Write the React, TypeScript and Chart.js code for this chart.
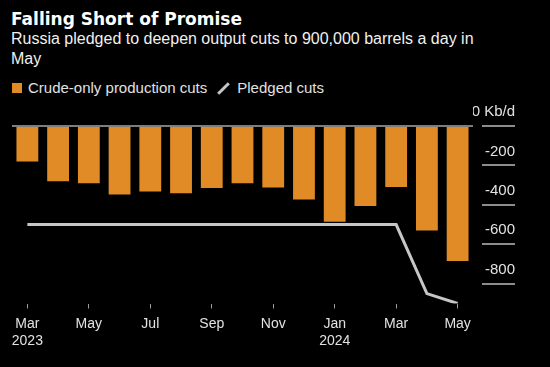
import React, { useEffect, useRef } from "react";
import { Chart, registerables } from "chart.js";

Chart.register(...registerables);

const months = [
  "Mar 2023", "Apr 2023", "May 2023", "Jun 2023", "Jul 2023", "Aug 2023", "Sep 2023",
  "Oct 2023", "Nov 2023", "Dec 2023", "Jan 2024", "Feb 2024", "Mar 2024", "Apr 2024", "May 2024",
];
const xTickLabels: (string | string[])[] = [
  ["Mar", "2023"], "", "May", "", "Jul", "", "Sep", "", "Nov", "", ["Jan", "2024"], "", "Mar", "", "May",
];
const crudeCuts = [-180, -280, -290, -347, -332, -341, -314, -290, -312, -373, -486, -405, -309, -530, -684];
const pledgedCuts = [-500, -500, -500, -500, -500, -500, -500, -500, -500, -500, -500, -500, -500, -850, -900];
const yTicks = [0, -200, -400, -600, -800];

const FONT = "'Liberation Sans', Arial, sans-serif";
const ORANGE = "#E08B26";
const LINE_GREY = "#c6c6c6";
const TEXT = "#e2e2e2";

export default function App() {
  const canvasRef = useRef<HTMLCanvasElement | null>(null);

  useEffect(() => {
    document.body.style.margin = "0";
    document.body.style.background = "#000";
    const canvas = canvasRef.current;
    if (!canvas) return;
    const chart = new Chart(canvas, {
      type: "bar",
      data: {
        labels: months,
        datasets: [
          {
            type: "bar",
            label: "Crude-only production cuts",
            data: crudeCuts,
            backgroundColor: ORANGE,
            borderWidth: 0,
            barPercentage: 0.71,
            categoryPercentage: 1,
            order: 2,
          },
          {
            type: "line",
            label: "Pledged cuts",
            data: pledgedCuts,
            borderColor: LINE_GREY,
            borderWidth: 3,
            pointRadius: 0,
            tension: 0,
            fill: false,
            order: 1,
          },
        ],
      },
      options: {
        responsive: false,
        animation: false,
        maintainAspectRatio: false,
        layout: { padding: { top: 126, left: 12, right: 35, bottom: 0 } },
        plugins: {
          legend: { display: false },
          title: { display: false },
          tooltip: { enabled: false },
        },
        scales: {
          x: {
            offset: true,
            border: { display: false },
            grid: {
              offset: false,
              drawOnChartArea: false,
              tickLength: 5,
              lineWidth: 1,
              tickColor: (ctx: any) => (ctx.index % 2 === 0 ? "#9a9a9a" : "rgba(0,0,0,0)"),
            },
            ticks: {
              autoSkip: false,
              maxRotation: 0,
              minRotation: 0,
              padding: 7,
              color: TEXT,
              font: { family: FONT, size: 14, lineHeight: 1.2 },
              callback: (_v: any, i: number) => xTickLabels[i],
            },
            afterFit: (s: any) => {
              s.height = 63.5;
            },
          },
          y: {
            position: "right",
            min: -900,
            max: 0,
            border: { display: false },
            afterBuildTicks: (s: any) => {
              s.ticks = yTicks.map((v) => ({ value: v }));
            },
            afterFit: (s: any) => {
              s.width = 42;
            },
            grid: {
              drawOnChartArea: true,
              lineWidth: 2,
              color: (ctx: any) => (ctx.tick && ctx.tick.value === 0 ? "#7d7d7d" : "rgba(0,0,0,0)"),
              tickColor: "#8c8c8c",
              tickLength: 42,
              tickBorderDash: [0, 9, 33],
            },
            ticks: {
              crossAlign: "far",
              padding: 0,
              labelOffset: -14,
              color: TEXT,
              font: { family: FONT, size: 15 },
              callback: (v: any) => (v === 0 ? "0 Kb/d" : String(v)),
            },
          },
        },
      } as any,
    });
    return () => chart.destroy();
  }, []);

  return (
    <div style={{ position: "fixed", left: 0, top: 0, width: 550, height: 367, background: "#000", overflow: "hidden" }}>
      <div
        style={{
          position: "absolute", left: 11, top: 10, fontFamily: "'DejaVu Sans', sans-serif", fontWeight: 700, fontSize: 17,
          lineHeight: "18px", color: "#ffffff", whiteSpace: "nowrap",
        }}
      >
        Falling Short of Promise
      </div>
      <div
        style={{
          position: "absolute", left: 11, top: 29, fontFamily: FONT, fontSize: 16,
          lineHeight: "20px", color: "#f0f0f0", whiteSpace: "nowrap",
        }}
      >
        Russia pledged to deepen output cuts to 900,000 barrels a day in
        <br />
        May
      </div>
      <div
        style={{
          position: "absolute", left: 12, top: 80, fontFamily: FONT, fontSize: 15,
          lineHeight: "16px", color: TEXT, whiteSpace: "nowrap", display: "flex", alignItems: "center",
        }}
      >
        <span style={{ display: "inline-block", width: 10, height: 10, background: ORANGE, marginRight: 6 }} />
        <span>Crude-only production cuts</span>
        <span
          style={{
            display: "inline-block", width: 15, height: 3, background: LINE_GREY, transform: "rotate(-45deg)",
            marginLeft: 9, marginRight: 6,
          }}
        />
        <span>Pledged cuts</span>
      </div>
      <canvas ref={canvasRef} width={550} height={367} style={{ position: "absolute", left: 0, top: 0 }} />
    </div>
  );
}
